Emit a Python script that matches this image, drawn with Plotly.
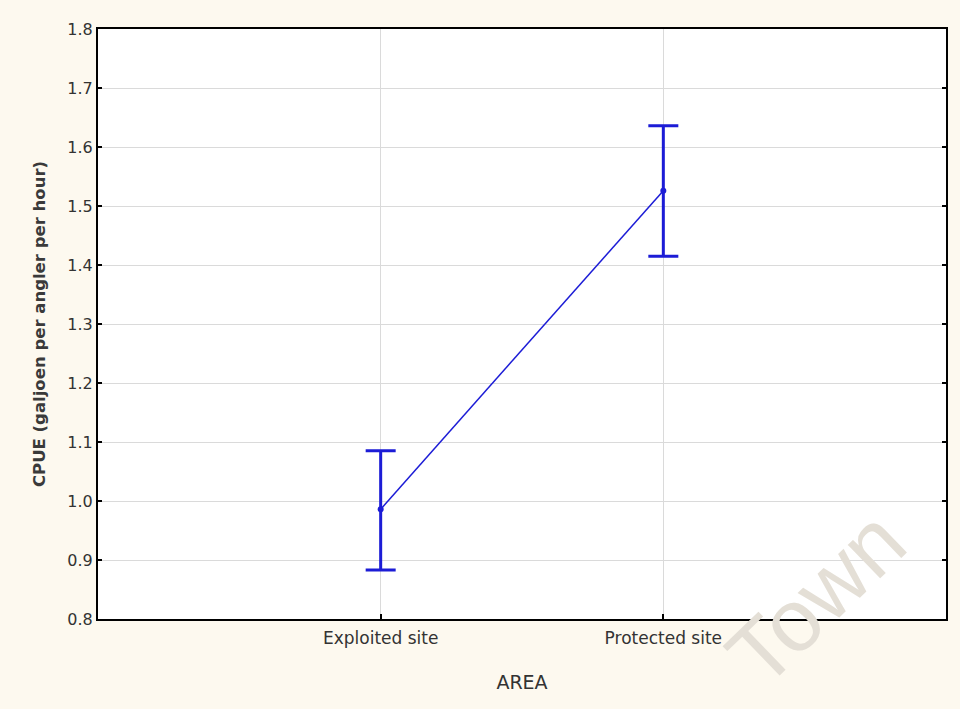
import plotly.graph_objects as go

areas = ["Exploited site", "Protected site"]
cpue = [0.986, 1.526]
err_plus = [0.099, 0.110]
err_minus = [0.103, 0.111]
y_ticks = [0.8, 0.9, 1.0, 1.1, 1.2, 1.3, 1.4, 1.5, 1.6, 1.7, 1.8]
x_pos = [0, 1]

BLUE = "#1c1cd6"
FONT = "DejaVu Sans, Liberation Sans, Arial"

fig = go.Figure()
fig.add_trace(go.Scatter(
    x=x_pos, y=cpue, mode="lines+markers",
    line=dict(color=BLUE, width=1.5),
    marker=dict(color=BLUE, size=6),
    error_y=dict(type="data", array=err_plus, arrayminus=err_minus,
                 color=BLUE, thickness=3, width=15),
    showlegend=False,
))

fig.add_annotation(text="Town", x=(815 - 98) / 848, y=(619 - 598) / 590,
                   xref="paper", yref="paper", xanchor="center", yanchor="middle",
                   showarrow=False, textangle=-44,
                   font=dict(family="Liberation Sans, Arial", size=88, color="#e4dfd6"))

fig.update_layout(
    width=960, height=709,
    paper_bgcolor="#fdf9ef", plot_bgcolor="white",
    margin=dict(l=98, r=14, t=29, b=90),
    font=dict(family=FONT, color="#333333"),
    xaxis=dict(range=[-1, 2], tickmode="array", tickvals=x_pos, ticktext=areas,
               showgrid=True, gridcolor="#dadada", gridwidth=1,
               showline=True, linecolor="black", linewidth=2, mirror=True,
               ticks="inside", ticklen=5, tickcolor="black", tickwidth=2,
               ticklabelstandoff=3,
               tickfont=dict(size=17), zeroline=False,
               title=dict(text="AREA", font=dict(size=19), standoff=28)),
    yaxis=dict(range=[0.8, 1.8], tickmode="array", tickvals=y_ticks,
               ticktext=[f"{v:.1f}" for v in y_ticks],
               showgrid=True, gridcolor="#dadada", gridwidth=1,
               showline=True, linecolor="black", linewidth=2, mirror="allticks",
               ticks="inside", ticklen=4, tickcolor="black", tickwidth=2,
               tickfont=dict(size=16), zeroline=False,
               title=dict(text="<b>CPUE (galjoen per angler per hour)</b>",
                          font=dict(size=16.5, color="#3a3a3a"), standoff=18)),
)

fig.write_html("out.html", config={"displayModeBar": False},
               post_script="document.body.style.margin='0';document.body.style.background='#fdf9ef';")
